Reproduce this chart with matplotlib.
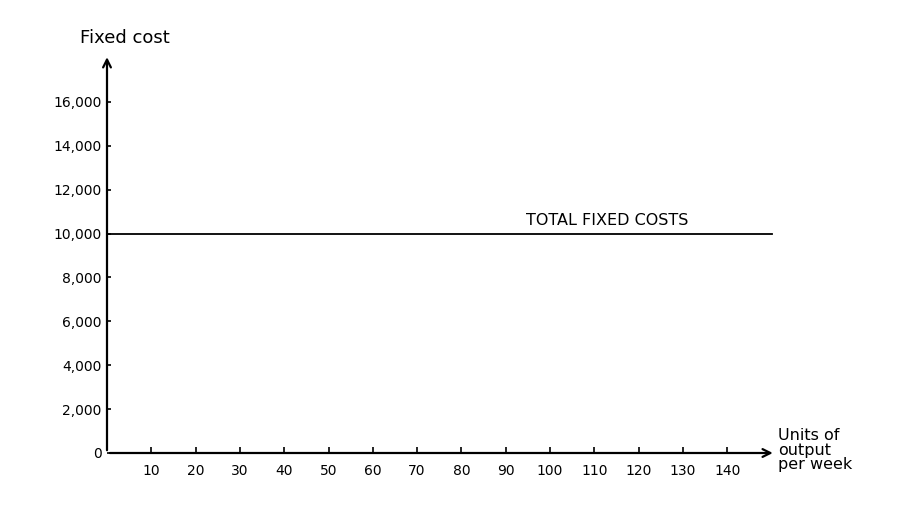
import numpy as np
import matplotlib.pyplot as plt

# chart values
output_units = [0, 150]
fixed_cost = [10000, 10000]
x_ticks = [10, 20, 30, 40, 50, 60, 70, 80, 90, 100, 110, 120, 130, 140]
y_ticks = [0, 2000, 4000, 6000, 8000, 10000, 12000, 14000, 16000]
y_tick_labels = ['0', '2,000', '4,000', '6,000', '8,000', '10,000',
                 '12,000', '14,000', '16,000']
line_label = 'TOTAL FIXED COSTS'

plt.rcParams['font.family'] = ['DejaVu Sans']

fig = plt.figure(figsize=(9.03, 5.15), dpi=100)
# axes box: x 107..780 px, y 453..50 px
W, H = 903, 515
x0, x1 = 107, 780
y0, y1 = 453, 50
ax = fig.add_axes([x0 / W, (H - y0) / H, (x1 - x0) / W, (y0 - y1) / H])

xmax = (x1 - x0) / 4.43
ymax = (y0 - y1) / 43.9 * 2000
ax.set_xlim(0, xmax)
ax.set_ylim(0, ymax)

for s in ax.spines.values():
    s.set_visible(False)

# axes with arrows
arrow = dict(arrowstyle='->', color='black', lw=1.6, mutation_scale=14)
ax.annotate('', xy=(xmax - 1, 0), xytext=(0, 0), arrowprops=arrow,
            annotation_clip=False)
ax.annotate('', xy=(0, ymax - 200), xytext=(0, 0), arrowprops=arrow,
            annotation_clip=False)

ax.plot(output_units, fixed_cost, color='black', lw=1.3)
ax.text(94.5, 10250, line_label, fontsize=11.5, ha='left', va='bottom')

ax.set_xticks(x_ticks)
ax.set_xticklabels([str(t) for t in x_ticks])
ax.set_yticks(y_ticks)
ax.set_yticklabels(y_tick_labels)
ax.tick_params(axis='x', direction='in', length=4, width=1.2, labelsize=10, pad=8)
ax.tick_params(axis='y', direction='in', length=3, width=1.2, labelsize=10, pad=4)

fig.text(80 / W, 1 - 38 / H, 'Fixed cost', fontsize=13, ha='left', va='center')
fig.text(778 / W, 1 - 450 / H, 'Units of\noutput\nper week', fontsize=11.5,
         ha='left', va='center', linespacing=1.0)

fig.savefig('out.png', dpi=100)
